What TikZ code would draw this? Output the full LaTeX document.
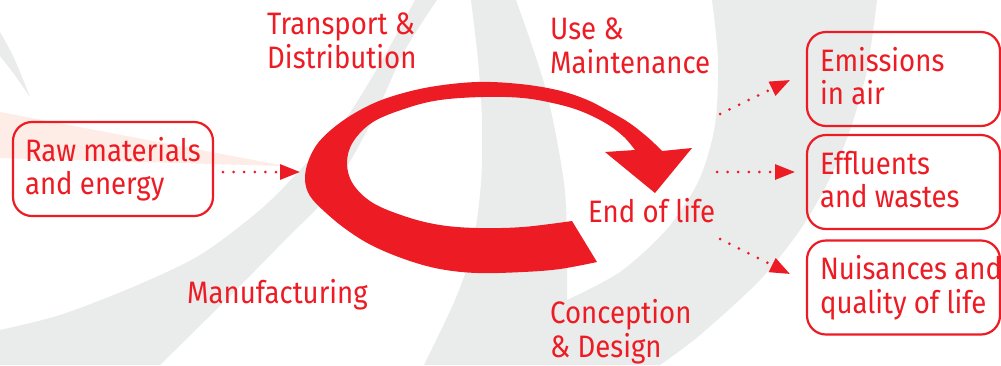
\documentclass[tikz,border=0pt]{standalone}
\usepackage{fontspec}
\setmainfont{Fira Sans}[FakeStretch=0.89]
\usetikzlibrary{arrows.meta}
\definecolor{lcared}{HTML}{ED1C24}
\definecolor{bggray}{HTML}{EAEBEB}
\definecolor{bgpink}{HTML}{FEECE7}
\begin{document}
\begin{tikzpicture}[x=1pt,y=-1pt,
  txt/.style={font=\fontsize{31}{33.5}\selectfont},
  lbl/.style={txt, text=lcared, align=left, inner sep=0pt, anchor=base west},
  box/.style={txt, draw=lcared, line width=2.2pt, rounded corners=19pt, text=lcared,
    align=flush left, inner xsep=12pt, inner ysep=0pt, minimum height=94pt,
    text height=25.5pt, text depth=41.5pt},
  dotarrow/.style={lcared, line width=3pt, line cap=round, dash pattern=on 0pt off 10.6pt,
    -{Triangle[length=20pt,width=15pt]}}
]
\useasboundingbox (0,0) rectangle (1001,365);
\fill[white] (0,0) rectangle (1001,365);
% background swooshes
\fill[bggray] plot[smooth] coordinates {(0,32) (14,58) (30,97)} -- plot[smooth] coordinates {(30,97) (14,74) (0,56)} -- cycle;
\fill[bgpink] (0,112) -- (285,166) -- (0,158) -- cycle;
\fill[bggray] plot[smooth] coordinates {(415,0) (385,55) (345,120) (300,170) (260,210) (200,255) (133,287) (60,315) (0,330)}
  -- (0,365) -- plot[smooth] coordinates {(160,365) (233,293) (290,235) (320,205) (345,170) (375,115) (405,50) (437,0)} -- cycle;
\fill[bggray] plot[smooth] coordinates {(471,0) (478,60) (482,120) (481,183) (472,250) (455,300) (424,365)}
  -- plot[smooth] coordinates {(660,365) (700,335) (760,280) (800,230) (828,182) (850,130) (867,70) (877,0)}
  -- plot[smooth] coordinates {(712,0) (718,60) (715,125) (699,180) (667,229) (620,272) (567,300)}
  -- plot[smooth] coordinates {(567,300) (567,250) (564,183) (546,90) (516,0)} -- cycle;
% cycle arrow
\fill[lcared] plot[smooth, tension=0.6] coordinates {(597,262) (560,269) (523,272) (477,273) (440,269) (407,260) (373,246) (347,230) (325,212) (310,196) (305,180) (308,162) (318,143) (337,125) (362,109) (390,97) (430,87) (477,82) (520,84) (557,90) (585,99) (607,110) (628,122) (645,135) (655,144) (662,151)}
  -- (692,148) -- (655,193) -- (605,152) -- (635,150)
  -- plot[smooth, tension=0.6] coordinates {(635,150) (624,137) (607,124) (583,112) (557,104) (523,98) (483,97) (440,100) (407,108) (373,122) (353,142) (347,163) (353,184) (373,203) (407,217) (440,225) (477,228) (523,227) (572,221)} -- cycle;
% labels (anchor = baseline of the last line)
\node[lbl] (trans) at (267,68) {Transport \&\\Distribution};
\node[lbl] (use) at (550,73) {Use \&\\Maintenance};
\node[lbl] (manuf) at (187,303) {Manufacturing};
\node[lbl] (eol) at (588,222) {End of life};
\node[lbl] (conc) at (550,357) {Conception\\\& Design};
% boxes
\node[box, minimum width=200pt, text width=176pt] (raw) at (113,169) {\mbox{Raw materials}\\\mbox{and energy}};
\node[box, minimum width=193pt, text width=167pt, inner xsep=13pt] (emis) at (903.5,79) {\mbox{Emissions}\\\mbox{in air}};
\node[box, minimum width=193pt, text width=167pt, inner xsep=13pt] (effl) at (903.5,182) {\mbox{Effluents}\\\mbox{and wastes}};
\node[box, minimum width=193pt, text width=167pt, inner xsep=13pt] (nuis) at (903.5,287.5) {\mbox{Nuisances and}\\\mbox{quality of life}};
% connectors
\coordinate (s0) at (223,172);
\coordinate (t0) at (300,172);
\coordinate (s1) at (720,114);
\coordinate (t1) at (790,80);
\coordinate (s2) at (717,172);
\coordinate (t2) at (795,172);
\coordinate (s3) at (720,239);
\coordinate (t3) at (790,274);
\draw[dotarrow] (s0) -- (t0);
\draw[dotarrow] (s1) -- (t1);
\draw[dotarrow] (s2) -- (t2);
\draw[dotarrow] (s3) -- (t3);
\end{tikzpicture}
\end{document}
